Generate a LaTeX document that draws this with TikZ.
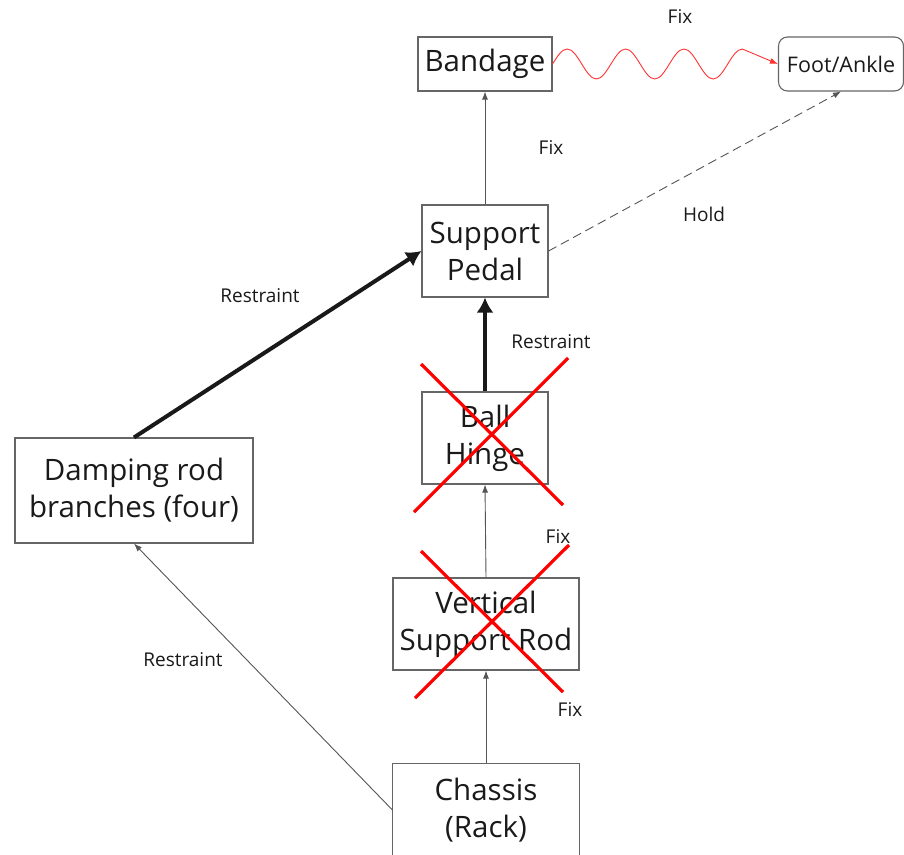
\documentclass[tikz,border=0pt]{standalone}
\usepackage{fontspec}
\setmainfont{Open Sans}
\usetikzlibrary{arrows.meta}

\definecolor{ink}{HTML}{1A1A1A}
\definecolor{boxgray}{HTML}{666666}
\definecolor{linegray}{HTML}{555555}
\definecolor{wave}{HTML}{FF3333}

\begin{document}
\begin{tikzpicture}[x=1pt,y=-1pt,
  box/.style={draw=boxgray, line width=1.1pt, fill=white, inner sep=0pt,
    align=center, text=ink, font=\fontsize{29.5}{37}\selectfont},
  lbl/.style={text=ink, inner sep=0pt, font=\fontsize{19}{22}\selectfont},
  thinarrow/.style={draw=linegray, line width=0.9pt,
    -{Latex[length=8pt,width=6pt]}},
  boldarrow/.style={draw=black!90, line width=4pt,
    -{Latex[length=15pt,width=17pt]}},
  holdarrow/.style={draw=linegray, line width=0.9pt, dash pattern=on 9pt off 5pt,
    -{Latex[length=8pt,width=6pt]}},
  cross/.style={draw=red, line width=3.2pt},
]
\fill[white] (0,0) rectangle (904,854);
\useasboundingbox (0,0) rectangle (904,854);

% blocks
\node[box, minimum width=134pt, minimum height=54pt] (band) at (485,64) {Bandage};
\node[box, minimum width=125pt, minimum height=54pt, rounded corners=9pt,
      font=\fontsize{21.5}{26}\selectfont] (foot) at (841,64) {Foot/Ankle};
\node[box, minimum width=126pt, minimum height=92pt] (pedal) at (485,251) {Support\\Pedal};
\node[box, minimum width=126pt, minimum height=92pt] (ball) at (485,438) {Ball\\Hinge};
\node[box, minimum width=186pt, minimum height=92pt] (vert) at (486,624) {Vertical\\Support Rod};
\node[box, minimum width=238pt, minimum height=105pt] (damp) at (134,490.5) {Damping rod\\branches (four)};
% the chassis block runs on past the lower edge of the sheet
\node[box, draw=none, minimum width=186pt, minimum height=92pt] (chassis) at (486,810) {Chassis\\(Rack)};
\draw[draw=boxgray, line width=1.1pt]
  (chassis.south west) ++(0,20) -- (chassis.north west)
  -- (chassis.north east) -- ++(0,112);

% connectors
\draw[thinarrow] (pedal.north) -- (band.south);
\draw[boldarrow] (ball.north) -- (pedal.south);
\draw[thinarrow] (vert.north) -- (ball.south);
\draw[thinarrow] (chassis.north) -- (vert.south);
\draw[thinarrow] (chassis.west) -- (damp.south);
\draw[boldarrow] (damp.north) -- (pedal.west);
\draw[holdarrow] (pedal.east) -- (foot.south);

% wavy fixing link from the bandage to the foot
\draw[draw=wave, line width=0.9pt, -{Latex[length=8pt,width=6pt]}]
  (band.east)
  sin ++(14.6,-15) cos ++(14.6,15) sin ++(14.6,15) cos ++(14.6,-15)
  sin ++(14.6,-15) cos ++(14.6,15) sin ++(14.6,15) cos ++(14.6,-15)
  sin ++(14.6,-15) cos ++(14.6,15) sin ++(14.6,15) cos ++(14.6,-15)
  sin ++(14.6,-15) -- (foot.west);

% crossed-out parts
\draw[cross] (421,364) -- (563,505);
\draw[cross] (568,358) -- (414,512);
\draw[cross] (421,551) -- (563,692);
\draw[cross] (569,545) -- (415,698);

% labels
\node[lbl] (l1) at (680,17) {Fix};
\node[lbl] (l2) at (551,148) {Fix};
\node[lbl] (l3) at (704,214) {Hold};
\node[lbl] (l4) at (260,296) {Restraint};
\node[lbl] (l5) at (551,342) {Restraint};
\node[lbl] (l6) at (558,537) {Fix};
\node[lbl] (l7) at (570,710) {Fix};
\node[lbl] (l8) at (183,660) {Restraint};
\end{tikzpicture}
\end{document}
